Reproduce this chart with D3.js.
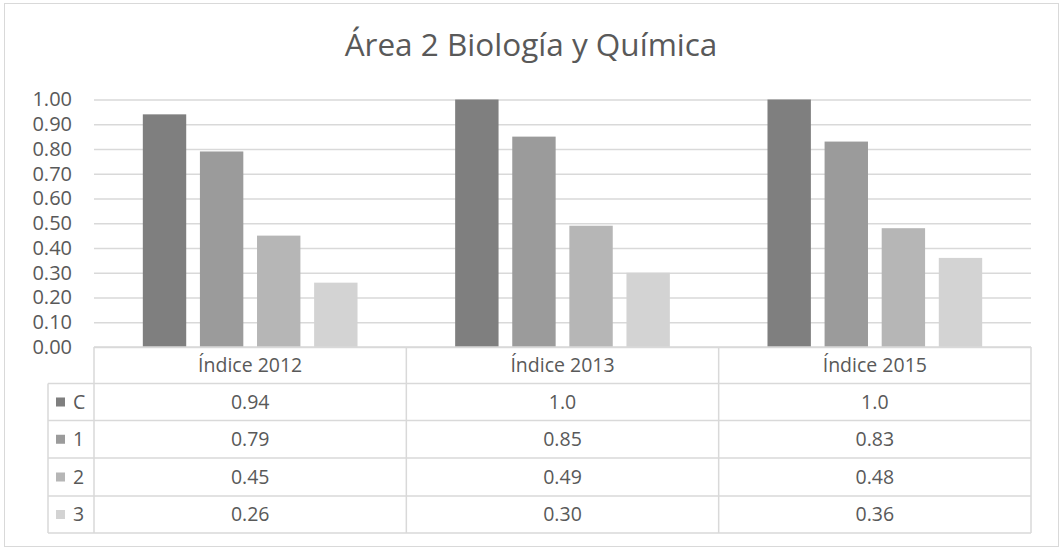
<!DOCTYPE html>
<html><head><meta charset="utf-8">
<script src="https://cdn.jsdelivr.net/npm/d3@7"></script>
<style>html,body{margin:0;padding:0;background:#fff;}svg{display:block;font-family:"Open Sans",Lato,sans-serif;}</style>
</head><body>
<svg id="chart" width="1064" height="550"></svg>
<script>
const title = "Área 2 Biología y Química";
const categories = ["Índice 2012", "Índice 2013", "Índice 2015"];
const seriesNames = ["C", "1", "2", "3"];
const valuesC = [0.94, 1.0, 1.0];
const values1 = [0.79, 0.85, 0.83];
const values2 = [0.45, 0.49, 0.48];
const values3 = [0.26, 0.30, 0.36];
const yTicks = [0, 0.1, 0.2, 0.3, 0.4, 0.5, 0.6, 0.7, 0.8, 0.9, 1.0];
const colors = ["#7f7f7f", "#9b9b9b", "#b6b6b6", "#d3d3d3"];

const series = [valuesC, values1, values2, values3];
const svg = d3.select("#chart");
const textColor = "#595959", lineColor = "#d9d9d9";
const fontFam = "'Open Sans', Lato, sans-serif";

svg.append("rect").attr("x", 4.5).attr("y", 3.5).attr("width", 1054).attr("height", 543)
  .attr("fill", "#fff").attr("stroke", lineColor);

svg.append("text").attr("x", 531).attr("y", 56).attr("text-anchor", "middle")
  .attr("font-size", 31.5).attr("fill", textColor).text(title);

const left = 94, right = 1031;
const y = d3.scaleLinear().domain([0, 1]).range([347, 99.5]);
const x0 = d3.scaleBand().domain(categories).range([left, right]).padding(0);
const x1 = d3.scaleBand().domain(seriesNames).range([0, x0.bandwidth()]).paddingInner(0.24).paddingOuter(0.855);

// gridlines & ticks
const yAxis = d3.axisLeft(y).tickValues(yTicks).tickFormat(d3.format(".2f")).tickSize(-(right - left)).tickPadding(22);
const gAxis = svg.append("g").attr("transform", `translate(${left},0)`).call(yAxis);
gAxis.select(".domain").remove();
gAxis.selectAll(".tick line").attr("stroke", lineColor).attr("stroke-width", 1.5);
gAxis.selectAll(".tick text").attr("fill", textColor).attr("font-size", 20).attr("font-family", fontFam);

// bars
const groups = svg.append("g").selectAll("g").data(categories).join("g")
  .attr("transform", d => `translate(${x0(d)},0)`);
groups.selectAll("rect").data((d, i) => seriesNames.map((s, j) => ({ s, v: series[j][i], j })))
  .join("rect")
  .attr("x", d => x1(d.s)).attr("width", x1.bandwidth())
  .attr("y", d => y(d.v)).attr("height", d => y(0) - y(d.v))
  .attr("fill", d => colors[d.j]);

// data table
const rowEdges = [347, 383.5, 420.5, 458, 496, 533];
const legendLeft = 48;
const tbl = svg.append("g");
const fmt = v => v === 1 ? "1.0" : d3.format(".2f")(v);
tbl.append("line").attr("x1", left).attr("x2", right).attr("y1", rowEdges[0]).attr("y2", rowEdges[0]);
rowEdges.slice(1).forEach(ry => {
  tbl.append("line").attr("x1", legendLeft).attr("x2", right).attr("y1", ry).attr("y2", ry);
});
const vx = [left, ...categories.map(c => x0(c) + x0.bandwidth())];
vx.forEach(xx => {
  tbl.append("line").attr("x1", xx).attr("x2", xx).attr("y1", rowEdges[0]).attr("y2", rowEdges[5]);
});
tbl.append("line").attr("x1", legendLeft).attr("x2", legendLeft).attr("y1", rowEdges[1]).attr("y2", rowEdges[5]);
tbl.selectAll("line").attr("stroke", lineColor).attr("stroke-width", 1.5);

const fs = 19.5;
tbl.selectAll("text.hdr").data(categories).join("text").attr("class", "hdr")
  .attr("x", d => x0(d) + x0.bandwidth() / 2).attr("y", (rowEdges[0] + rowEdges[1]) / 2)
  .attr("dy", "0.35em").attr("text-anchor", "middle").attr("font-size", fs).attr("fill", textColor).text(d => d);

seriesNames.forEach((s, j) => {
  const cy = (rowEdges[j + 1] + rowEdges[j + 2]) / 2;
  tbl.append("rect").attr("x", 56).attr("y", cy - 4.5).attr("width", 9).attr("height", 9).attr("fill", colors[j]);
  tbl.append("text").attr("x", 73).attr("y", cy).attr("dy", "0.35em").attr("font-size", fs).attr("fill", textColor).text(s);
  categories.forEach((c, i) => {
    tbl.append("text").attr("x", x0(c) + x0.bandwidth() / 2).attr("y", cy).attr("dy", "0.35em")
      .attr("text-anchor", "middle").attr("font-size", fs).attr("fill", textColor).text(fmt(series[j][i]));
  });
});
</script>
</body></html>
